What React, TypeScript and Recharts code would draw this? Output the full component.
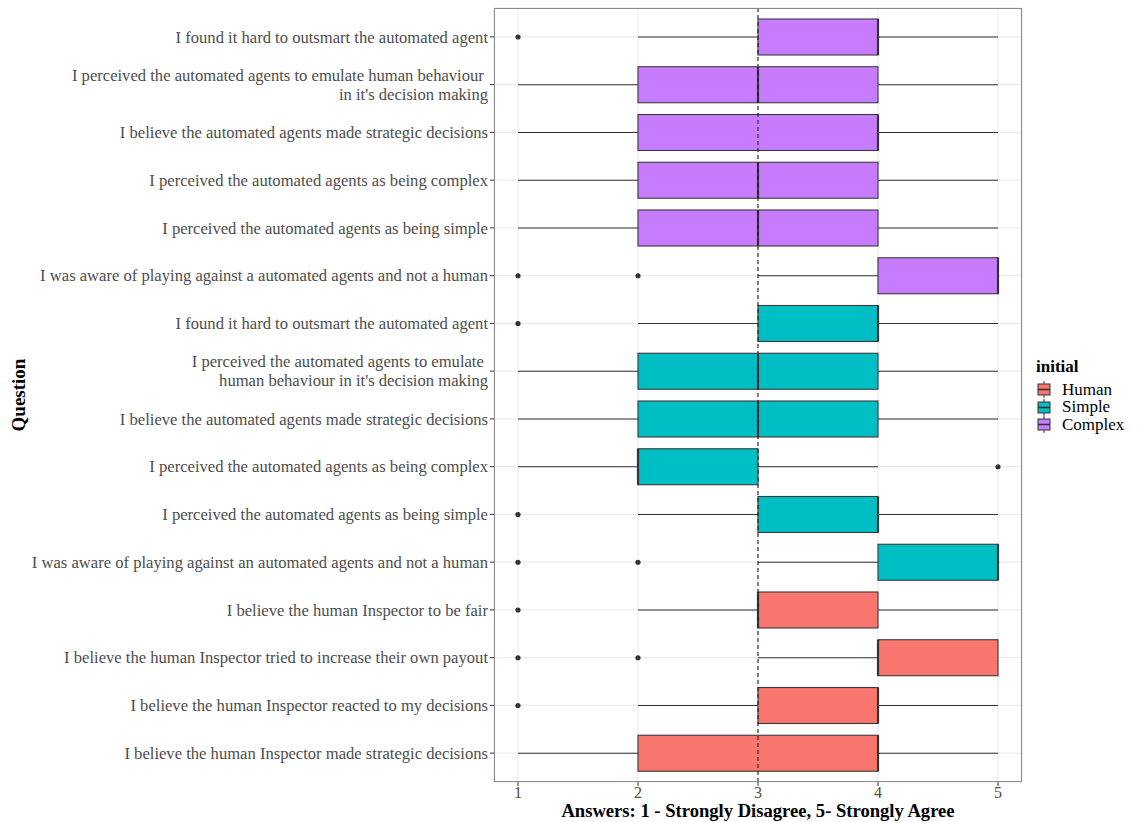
import React from 'react'
import { ComposedChart, Bar, XAxis, YAxis, CartesianGrid, ReferenceLine, Legend, Label } from 'recharts'

// top to bottom, as drawn
const questions = [
  'I found it hard to outsmart the automated agent',
  "I perceived the automated agents to emulate human behaviour \nin it's decision making",
  'I believe the automated agents made strategic decisions',
  'I perceived the automated agents as being complex',
  'I perceived the automated agents as being simple',
  'I was aware of playing against a automated agents and not a human',
  'I found it hard to outsmart the automated agent',
  "I perceived the automated agents to emulate \nhuman behaviour in it's decision making",
  'I believe the automated agents made strategic decisions',
  'I perceived the automated agents as being complex',
  'I perceived the automated agents as being simple',
  'I was aware of playing against an automated agents and not a human',
  'I believe the human Inspector to be fair',
  'I believe the human Inspector tried to increase their own payout',
  'I believe the human Inspector reacted to my decisions',
  'I believe the human Inspector made strategic decisions',
]
const groups = [
  'Complex', 'Complex', 'Complex', 'Complex', 'Complex', 'Complex',
  'Simple', 'Simple', 'Simple', 'Simple', 'Simple', 'Simple',
  'Human', 'Human', 'Human', 'Human',
]
const whiskerLow = [2, 1, 1, 1, 1, 3, 2, 1, 1, 1, 2, 3, 2, 3, 2, 1]
const q1 = [3, 2, 2, 2, 2, 4, 3, 2, 2, 2, 3, 4, 3, 4, 3, 2]
const median = [4, 3, 4, 3, 3, 5, 4, 3, 3, 2, 4, 5, 3, 4, 4, 4]
const q3 = [4, 4, 4, 4, 4, 5, 4, 4, 4, 3, 4, 5, 4, 5, 4, 4]
const whiskerHigh = [5, 5, 5, 5, 5, 5, 5, 5, 5, 4, 5, 5, 5, 5, 5, 5]
const outliers = [[1], [], [], [], [], [1, 2], [1], [], [], [5], [1], [1, 2], [1], [1, 2], [1], []]

const legendOrder = ['Human', 'Simple', 'Complex']
const xTicks = [1, 2, 3, 4, 5]
const xMinorTicks = [1.5, 2.5, 3.5, 4.5]

const colors: Record<string, string> = { Human: '#F8766D', Simple: '#00BFC4', Complex: '#C77CFF' }
const serif = "'Liberation Serif', 'Times New Roman', serif"

const data = questions.map((q, i) => ({
  id: String(i),
  group: groups[i],
  range: [whiskerLow[i], whiskerHigh[i]],
  q1: q1[i],
  median: median[i],
  q3: q3[i],
  outliers: outliers[i],
}))

const BoxShape = (props: any) => {
  const { x, y, width, height, payload } = props
  const [lo, hi] = payload.range
  const ppu = width / (hi - lo)
  const px = (v: number) => x + (v - lo) * ppu
  const cy = y + height / 2
  return (
    <g>
      <line x1={px(lo)} x2={px(hi)} y1={cy} y2={cy} stroke="#333" strokeWidth={1.1} />
      <rect
        x={px(payload.q1)}
        y={y}
        width={px(payload.q3) - px(payload.q1)}
        height={height}
        fill={colors[payload.group]}
        stroke="#3a3a3a"
        strokeWidth={1.1}
      />
      <line x1={px(payload.median)} x2={px(payload.median)} y1={y} y2={y + height} stroke="#333" strokeWidth={2.2} />
      {payload.outliers.map((o: number, k: number) => (
        <circle key={k} cx={px(o)} cy={cy} r={2.6} fill="#333" />
      ))}
    </g>
  )
}

const QuestionTick = (props: any) => {
  const { x, y, payload } = props
  const lines = questions[Number(payload.value)].split('\n')
  const lh = 19
  const y0 = y - ((lines.length - 1) * lh) / 2
  return (
    <text x={x} y={y0} textAnchor="end" fill="#4D4D4D" fontSize={16.6} fontFamily={serif}>
      {lines.map((l, i) => (
        <tspan key={i} x={x} dy={i === 0 ? '0.35em' : lh}>{l}</tspan>
      ))}
    </text>
  )
}

const LegendBox = () => (
  <div style={{ fontFamily: serif, color: '#000' }}>
    <div style={{ fontWeight: 'bold', fontSize: 17, lineHeight: '20px', marginBottom: 4 }}>initial</div>
    {legendOrder.map((g) => (
      <div key={g} style={{ display: 'flex', alignItems: 'center', height: 17.5 }}>
        <svg width={16} height={17} style={{ marginRight: 10 }}>
          <line x1={8} x2={8} y1={0} y2={17} stroke="#333" strokeWidth={1} />
          <rect x={2} y={3} width={12} height={11} fill={colors[g]} stroke="#333" strokeWidth={1} />
          <line x1={2} x2={14} y1={8.5} y2={8.5} stroke="#333" strokeWidth={1.6} />
        </svg>
        <span style={{ fontSize: 17 }}>{g}</span>
      </div>
    ))}
  </div>
)

export default function App() {
  return (
    <div style={{ position: 'absolute', left: 0, top: 0, width: 1137, height: 822, background: '#fff' }}>
      <ComposedChart
        width={1137}
        height={822}
        data={data}
        layout="vertical"
        margin={{ top: 8, right: 115, bottom: 0, left: 0 }}
      >
        <CartesianGrid xAxisId="minor" horizontal={false} stroke="#EFEFEF" strokeWidth={0.7} />
        <CartesianGrid stroke="#EBEBEB" strokeWidth={1.1} />
        <XAxis
          type="number"
          dataKey="median"
          domain={[0.8, 5.2]}
          ticks={xTicks}
          axisLine={false}
          tickSize={4}
          tickMargin={1}
          tickLine={{ stroke: '#333' }}
          tick={{ fontSize: 16, fill: '#4D4D4D', fontFamily: serif }}
          height={40}
        >
          <Label
            content={(p: any) => (
              <text
                x={p.viewBox.x + p.viewBox.width / 2}
                y={p.viewBox.y + 28}
                dy="0.35em"
                textAnchor="middle"
                fontFamily={serif}
                fontWeight="bold"
                fontSize={18.6}
                fill="#000"
              >
                Answers: 1 - Strongly Disagree, 5- Strongly Agree
              </text>
            )}
          />
        </XAxis>
        <XAxis xAxisId="minor" type="number" domain={[0.8, 5.2]} ticks={xMinorTicks} hide />
        <YAxis
          type="category"
          dataKey="id"
          width={494}
          padding={{ top: 5, bottom: 5 }}
          axisLine={false}
          tickSize={4}
          tickMargin={2}
          tickLine={{ stroke: '#333' }}
          tick={<QuestionTick />}
          interval={0}
        >
          <Label
            content={(p: any) => {
              const cx = 18
              const cy = p.viewBox.y + p.viewBox.height / 2
              return (
                <text
                  x={cx}
                  y={cy}
                  dy="0.35em"
                  transform={`rotate(-90 ${cx} ${cy})`}
                  textAnchor="middle"
                  fontFamily={serif}
                  fontWeight="bold"
                  fontSize={19}
                  fill="#000"
                >
                  Question
                </text>
              )
            }}
          />
        </YAxis>
        <Bar dataKey="range" barSize={36} shape={<BoxShape />} isAnimationActive={false} />
        <ReferenceLine x={3} stroke="#222" strokeWidth={1.1} strokeDasharray="4 3" />
        <Legend
          layout="horizontal"
          verticalAlign="middle"
          align="center"
          content={() => <LegendBox />}
          wrapperStyle={{ position: 'absolute', left: 1036, top: 357, width: 100, height: 80 }}
        />
      </ComposedChart>
      <div
        style={{
          position: 'absolute',
          left: 494,
          top: 8,
          width: 528,
          height: 774,
          boxSizing: 'border-box',
          border: '1px solid #8a8a8a',
          pointerEvents: 'none',
        }}
      />
    </div>
  )
}
